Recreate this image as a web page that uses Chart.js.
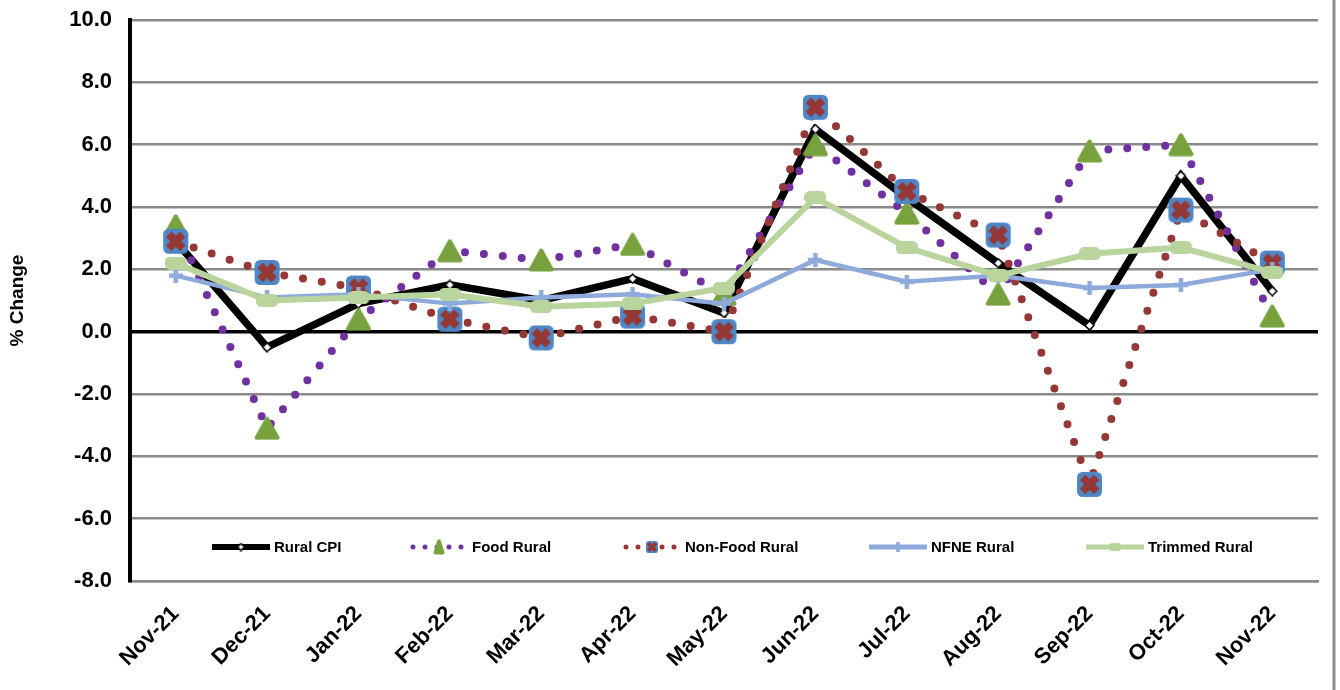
<!DOCTYPE html>
<html>
<head>
<meta charset="utf-8">
<script src="https://cdn.jsdelivr.net/npm/chart.js@4.4.1/dist/chart.umd.min.js"></script>
<style>
  html, body { margin: 0; padding: 0; background: #fff; }
</style>
</head>
<body>
<canvas id="ruralChart" width="1340" height="690"></canvas>
<script>
// Month-on-month % change, rural series
const months = ['Nov-21', 'Dec-21', 'Jan-22', 'Feb-22', 'Mar-22', 'Apr-22', 'May-22',
                'Jun-22', 'Jul-22', 'Aug-22', 'Sep-22', 'Oct-22', 'Nov-22'];
const ruralCpi  = [2.9, -0.5, 0.9, 1.5, 1.0, 1.7, 0.6, 6.5, 4.3, 2.2, 0.2, 5.0, 1.3];
const foodRural = [3.4, -3.1, 0.4, 2.6, 2.3, 2.8, 1.2, 6.0, 3.8, 1.2, 5.8, 6.0, 0.5];
const nonFoodRural = [2.9, 1.9, 1.4, 0.4, -0.2, 0.5, 0.0, 7.2, 4.5, 3.1, -4.9, 3.9, 2.2];
const nfneRural = [1.8, 1.1, 1.2, 0.9, 1.1, 1.2, 0.9, 2.3, 1.6, 1.8, 1.4, 1.5, 2.0];
const trimmedRural = [2.2, 1.0, 1.1, 1.2, 0.8, 0.9, 1.4, 4.3, 2.7, 1.8, 2.5, 2.7, 1.9];
const yTicks = [-8, -6, -4, -2, 0, 2, 4, 6, 8, 10];

const FONT = "'Liberation Sans', Arial, sans-serif";
const foodColor = '#7030A0';
const triColor = '#78A23E';
const nonFoodColor = '#953735';
const squareBlue = '#4F86C6';
const nfneColor = '#8EAADB';
const trimmedColor = '#B9D49D';

// Small helper to build marker images
function makeCanvas(w, h, draw) {
    const c = document.createElement('canvas');
    c.width = w;
    c.height = h;
    draw(c.getContext('2d'), w, h);
    return c;
}

function diamond(s) {
    return makeCanvas(s, s, (g, w, h) => {
        g.beginPath();
        g.moveTo(w / 2, 1); g.lineTo(w - 1, h / 2); g.lineTo(w / 2, h - 1); g.lineTo(1, h / 2);
        g.closePath();
        g.fillStyle = '#fff'; g.fill();
        g.strokeStyle = '#000'; g.lineWidth = 1.5; g.stroke();
    });
}

function triangle(w, h) {
    return makeCanvas(w, h, (g) => {
        g.beginPath();
        g.moveTo(w / 2, 2.5); g.lineTo(w - 2.5, h - 2.5); g.lineTo(2.5, h - 2.5);
        g.closePath();
        g.fillStyle = triColor; g.strokeStyle = triColor;
        g.lineJoin = 'round'; g.lineWidth = 4;
        g.fill(); g.stroke();
    });
}

function crossSquare(s) {
    return makeCanvas(s, s, (g, w, h) => {
        g.beginPath();
        g.roundRect(1, 1, w - 2, h - 2, s * 0.2);
        g.fillStyle = squareBlue; g.fill();
        g.strokeStyle = nonFoodColor; g.lineWidth = s * 0.28;
        const a = s * 0.24, b = s - a;
        g.beginPath();
        g.moveTo(a, a); g.lineTo(b, b);
        g.moveTo(b, a); g.lineTo(a, b);
        g.stroke();
    });
}

function plus(s, lw) {
    return makeCanvas(s, s, (g, w, h) => {
        g.strokeStyle = nfneColor; g.lineWidth = lw;
        g.beginPath();
        g.moveTo(w / 2, 0); g.lineTo(w / 2, h);
        g.moveTo(0, h / 2); g.lineTo(w, h / 2);
        g.stroke();
    });
}

function pill(w, h) {
    return makeCanvas(w, h, (g) => {
        g.beginPath();
        g.roundRect(0, 0, w, h, h * 0.4);
        g.fillStyle = trimmedColor; g.fill();
    });
}

const markers = {
    cpi: diamond(11),
    food: triangle(26, 24),
    nonFood: crossSquare(27),
    nfne: plus(14, 4.5),
    trimmed: pill(22, 13)
};
const legendMarkers = {
    cpi: diamond(9),
    food: triangle(12, 16),
    nonFood: crossSquare(14),
    nfne: plus(10, 3.5),
    trimmed: pill(12, 8)
};

// Legend sits inside the plot area, drawn by hand
const legendPlugin = {
    id: 'innerLegend',
    afterDatasetsDraw(chart) {
        const ctx = chart.ctx;
        const y = 547;
        const items = [
            { text: 'Rural CPI', x: 212, color: '#000', width: 6, dash: [], m: legendMarkers.cpi },
            { text: 'Food Rural', x: 410, color: foodColor, width: 5, dash: [0, 12], m: legendMarkers.food },
            { text: 'Non-Food Rural', x: 623, color: nonFoodColor, width: 5, dash: [0, 12], m: legendMarkers.nonFood },
            { text: 'NFNE Rural', x: 869, color: nfneColor, width: 5, dash: [], m: legendMarkers.nfne },
            { text: 'Trimmed Rural', x: 1086, color: trimmedColor, width: 5, dash: [], m: legendMarkers.trimmed }
        ];
        ctx.save();
        items.forEach(item => {
            const len = 58;
            ctx.strokeStyle = item.color;
            ctx.lineWidth = item.width;
            ctx.setLineDash(item.dash);
            ctx.lineCap = item.dash.length ? 'round' : 'butt';
            ctx.beginPath();
            ctx.moveTo(item.x + (item.dash.length ? 3 : 0), y);
            ctx.lineTo(item.x + len, y);
            ctx.stroke();
            ctx.setLineDash([]);
            ctx.drawImage(item.m, item.x + len / 2 - item.m.width / 2, y - item.m.height / 2);
            ctx.fillStyle = '#000';
            ctx.font = `bold 15px ${FONT}`;
            ctx.textBaseline = 'middle';
            ctx.textAlign = 'left';
            ctx.fillText(item.text, item.x + len + 4, y + 1);
        });
        ctx.restore();
    }
};

// Right frame edge of the original chart box
const framePlugin = {
    id: 'frameEdge',
    afterDraw(chart) {
        const ctx = chart.ctx;
        ctx.save();
        ctx.strokeStyle = '#8c8c8c';
        ctx.lineWidth = 3;
        ctx.beginPath();
        ctx.moveTo(1334, 0);
        ctx.lineTo(1334, chart.height);
        ctx.stroke();
        ctx.restore();
    }
};

const ctx = document.getElementById('ruralChart').getContext('2d');

new Chart(ctx, {
    type: 'line',
    data: {
        labels: months,
        datasets: [
            {
                label: 'Rural CPI',
                data: ruralCpi,
                borderColor: '#000',
                borderWidth: 7.5,
                pointStyle: markers.cpi,
                order: 5
            },
            {
                label: 'Food Rural',
                data: foodRural,
                borderColor: foodColor,
                borderWidth: 8,
                borderDash: [0, 19],
                borderCapStyle: 'round',
                pointStyle: markers.food,
                order: 4
            },
            {
                label: 'Non-Food Rural',
                data: nonFoodRural,
                borderColor: nonFoodColor,
                borderWidth: 8,
                borderDash: [0, 19],
                borderCapStyle: 'round',
                pointStyle: markers.nonFood,
                order: 3
            },
            {
                label: 'NFNE Rural',
                data: nfneRural,
                borderColor: nfneColor,
                borderWidth: 4.5,
                pointStyle: markers.nfne,
                order: 2
            },
            {
                label: 'Trimmed Rural',
                data: trimmedRural,
                borderColor: trimmedColor,
                borderWidth: 6,
                pointStyle: markers.trimmed,
                order: 1
            }
        ]
    },
    options: {
        responsive: false,
        animation: false,
        events: [],
        elements: {
            line: { tension: 0, fill: false },
            point: { radius: 10 }
        },
        layout: {
            padding: { left: 0, top: 20, right: 22, bottom: 0 }
        },
        plugins: {
            legend: { display: false },
            tooltip: { enabled: false },
            title: { display: false }
        },
        scales: {
            x: {
                offset: true,
                grid: { display: false, drawTicks: false },
                border: { display: true, color: '#8a8a8a', width: 2.5 },
                ticks: {
                    autoSkip: false,
                    maxRotation: 45,
                    minRotation: 45,
                    padding: 20,
                    color: '#000',
                    font: { family: FONT, size: 22, weight: 'bold' }
                },
                afterFit: (scale) => { scale.height = 109; }
            },
            y: {
                min: yTicks[0],
                max: yTicks[yTicks.length - 1],
                afterBuildTicks: (scale) => { scale.ticks = yTicks.map(v => ({ value: v })); },
                ticks: {
                    padding: 5,
                    color: '#000',
                    callback: (v) => Number(v).toFixed(1),
                    font: { family: FONT, size: 22, weight: 'bold' }
                },
                grid: {
                    drawTicks: true,
                    tickLength: 13,
                    tickColor: 'rgba(0,0,0,0)',
                    color: (c) => c.tick && c.tick.value === 0 ? '#000' : '#8a8a8a',
                    lineWidth: (c) => c.tick && c.tick.value === 0 ? 3.5 : 2.5
                },
                border: { color: '#000', width: 4 },
                title: {
                    display: true,
                    text: '% Change',
                    color: '#000',
                    font: { family: FONT, size: 19, weight: 'bold' },
                    padding: { top: 6, bottom: 0 }
                },
                afterFit: (scale) => { scale.width = 130; }
            }
        }
    },
    plugins: [legendPlugin, framePlugin]
});
</script>
</body>
</html>
